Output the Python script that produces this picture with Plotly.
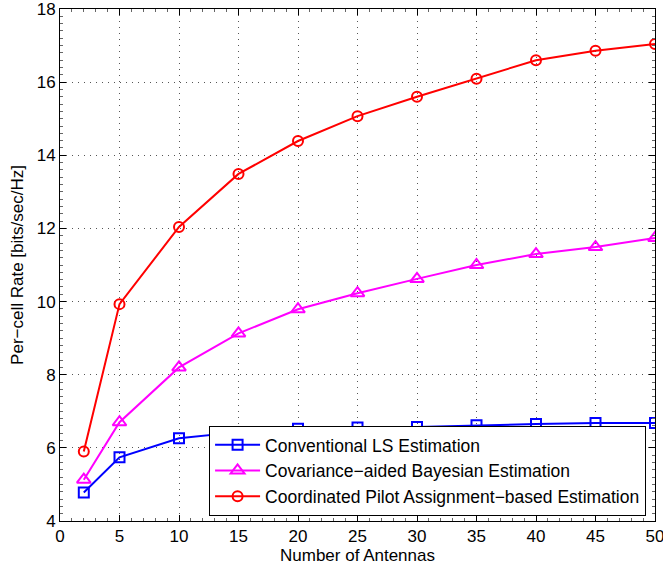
import plotly.graph_objects as go

antennas = [2, 5, 10, 15, 20, 25, 30, 35, 40, 45, 50]
ls_rate = [4.78, 5.74, 6.26, 6.43, 6.52, 6.56, 6.57, 6.62, 6.65, 6.68, 6.68]
bayes_rate = [5.13, 6.70, 8.20, 9.13, 9.79, 10.23, 10.62, 11.00, 11.30, 11.49, 11.74]
coord_rate = [5.90, 9.93, 12.04, 13.49, 14.39, 15.07, 15.60, 16.09, 16.60, 16.86, 17.04]
names = ["Conventional LS Estimation",
         "Covariance\u2212aided Bayesian Estimation",
         "Coordinated Pilot Assignment\u2212based Estimation"]
x_ticks = [0, 5, 10, 15, 20, 25, 30, 35, 40, 45, 50]
y_ticks = [4, 6, 8, 10, 12, 14, 16, 18]

FONT = "Liberation Sans, Arial, Helvetica, sans-serif"

fig = go.Figure()
styles = [("#0000ff", "square-open", 10), ("#ff00ff", "triangle-up-open", 12), ("#ff0000", "circle-open", 10)]
for ys, nm, (c, sym, sz) in zip([ls_rate, bayes_rate, coord_rate], names, styles):
    fig.add_trace(go.Scatter(x=antennas, y=ys, name=nm, mode="lines+markers",
                             line=dict(color=c, width=2),
                             marker=dict(symbol=sym, size=sz, color=c, line=dict(color=c, width=2))))

axis_common = dict(showline=True, linecolor="black", linewidth=1, mirror="ticks",
                   ticks="inside", ticklen=6, tickcolor="black", automargin=False,
                   ticklabeloverflow="allow",
                   showgrid=True, gridcolor="#555555", griddash="1px,5px", gridwidth=1,
                   zeroline=False, tickfont=dict(family=FONT, size=17, color="black"))

fig.update_xaxes(range=[0, 50], tickvals=x_ticks,
                 title=dict(text="Number of Antennas", standoff=2,
                            font=dict(family=FONT, size=17, color="black")),
                 minor=dict(ticks="inside", ticklen=3, tickcolor="#666666", showgrid=False, dtick=1),
                 **axis_common)
fig.update_yaxes(range=[4, 18], tickvals=y_ticks,
                 title=dict(text="Per\u2212cell Rate [bits/sec/Hz]", standoff=8,
                            font=dict(family=FONT, size=17, color="black")),
                 minor=dict(ticks="inside", ticklen=3, tickcolor="#666666", showgrid=False, dtick=0.2),
                 **axis_common)

fig.update_layout(width=663, height=569, margin=dict(l=60, r=8, t=9, b=48),
                  plot_bgcolor="white", paper_bgcolor="white",
                  font=dict(family=FONT, size=17, color="black"),
                  legend=dict(x=0.985, y=0.01, xanchor="right", yanchor="bottom",
                              bgcolor="white", bordercolor="black", borderwidth=1,
                              font=dict(family=FONT, size=17.5), tracegroupgap=0, itemwidth=45),
                  showlegend=True)
fig.write_html("out.html", config={"displayModeBar": False},
               post_script="document.body.style.margin='0px';")
